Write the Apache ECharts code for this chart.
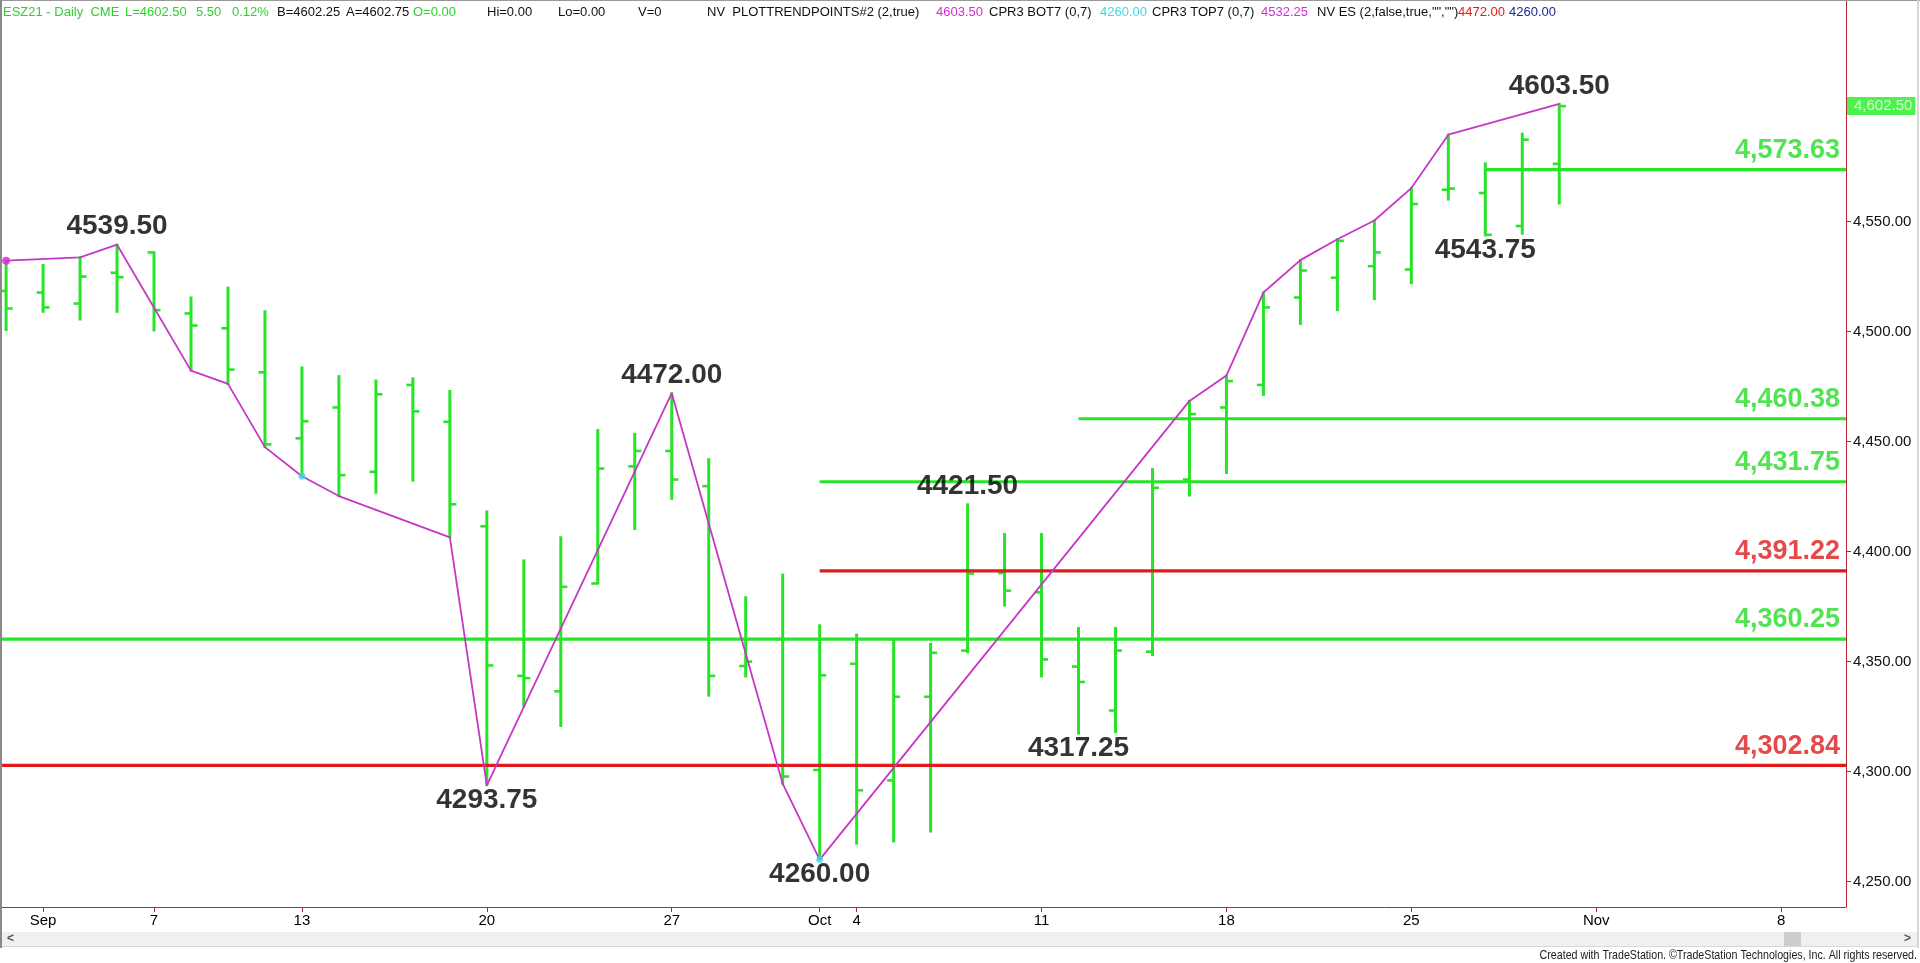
<!DOCTYPE html>
<html><head><meta charset="utf-8">
<script src="https://cdn.jsdelivr.net/npm/echarts@6/dist/echarts.min.js"></script>
<style>html,body{margin:0;padding:0;background:#fff;overflow:hidden}#c{width:1920px;height:963px}</style>
</head><body><div id="c"></div>
<script>
// ---------- DATA ----------
const dates = ['2021-08-31','2021-09-01','2021-09-02','2021-09-03','2021-09-07','2021-09-08','2021-09-09','2021-09-10',
 '2021-09-13','2021-09-14','2021-09-15','2021-09-16','2021-09-17','2021-09-20','2021-09-21','2021-09-22','2021-09-23','2021-09-24',
 '2021-09-27','2021-09-28','2021-09-29','2021-09-30','2021-10-01','2021-10-04','2021-10-05','2021-10-06','2021-10-07','2021-10-08',
 '2021-10-11','2021-10-12','2021-10-13','2021-10-14','2021-10-15','2021-10-18','2021-10-19','2021-10-20','2021-10-21','2021-10-22',
 '2021-10-25','2021-10-26','2021-10-27','2021-10-28','2021-10-29','2021-11-01','2021-11-02','2021-11-03','2021-11-04','2021-11-05',
 '2021-11-08','2021-11-09'];
const opens  = [4518.5,4517.75,4512.75,4526.75,4536.0,4508.25,4501.5,4481.5,4451.5,4465.5,4436.25,4475.75,4459.0,4411.5,4343.5,4336.5,4385.5,4438.75,4445.75,4429.75,4348.0,4360.25,4300.75,4349.0,4296.0,4334.0,4355.0,4390.25,4381.5,4347.75,4327.75,4354.5,4432.75,4465.5,4475.75,4515.5,4524.5,4529.75,4528.25,4564.5,4563.0,4548.0,4576.25];
const highs  = [4532.25,4530.25,4533.75,4539.5,4536.0,4515.5,4520.0,4509.25,4483.75,4479.75,4477.75,4478.75,4473.0,4418.25,4396.0,4406.5,4455.25,4453.5,4472.0,4442.0,4379.25,4389.5,4366.5,4362.25,4359.75,4358.0,4421.5,4408.0,4408.0,4365.25,4365.25,4437.5,4468.5,4480.0,4517.75,4532.5,4542.0,4550.5,4565.25,4589.5,4576.5,4590.0,4603.5];
const lows   = [4500.75,4509.0,4505.5,4509.0,4500.5,4482.25,4476.25,4447.5,4434.25,4425.25,4426.75,4432.25,4406.5,4293.75,4329.75,4320.75,4385.5,4410.25,4424.0,4334.5,4343.25,4294.5,4260.0,4267.25,4268.25,4272.75,4354.25,4375.5,4343.25,4317.25,4318.0,4353.0,4425.5,4435.75,4471.25,4503.5,4509.75,4514.75,4522.0,4560.0,4543.75,4544.5,4558.25];
const closes = [4510.5,4511.0,4525.0,4524.75,4509.75,4502.75,4482.75,4448.75,4459.25,4434.75,4471.5,4463.75,4421.5,4348.25,4342.5,4384.0,4437.75,4445.75,4432.75,4343.5,4350.0,4297.75,4343.75,4291.5,4334.0,4354.0,4390.0,4382.25,4351.0,4340.75,4355.0,4429.0,4462.5,4477.5,4511.0,4527.75,4541.25,4536.0,4558.0,4565.0,4544.0,4587.25,4602.5];

// trend (swing) line vertices
const trendIdx  = [0,2,3,5,6,7,8,9,12,13,18,21,22,32,33,34,35,36,37,38,39,42];
const trendVals = [4532.25,4533.75,4539.5,4482.25,4476.25,4447.5,4434.25,4425.25,4406.5,4293.75,4472.0,4294.5,4260.0,4468.5,4480.0,4517.75,4532.5,4542.0,4550.5,4565.25,4589.5,4603.5];
const topDotIdx = [0],    topDotVals = [4532.25];
const botDotIdx = [8,22], botDotVals = [4434.25,4260.0];

// horizontal levels
const levels        = [4573.63,4460.38,4431.75,4391.22,4360.25,4302.84];
const levelStartIdx = [40,29,22,22,null,null];   // null = from the left edge
const levelIsRed    = [false,false,false,true,false,true];

// swing labels
const swingIdx  = [3,18,13,22,26,29,40,42];
const swingVals = [4539.5,4472.0,4293.75,4260.0,4421.5,4317.25,4543.75,4603.5];
const swingAbove= [true,true,false,false,true,false,false,true];

// axes
const xTickIdx = [1,4,8,13,18,22,23,28,33,38,43,48];
const yTicks   = [4250,4300,4350,4400,4450,4500,4550];
const lastPrice = 4602.50;

// header (status line) texts
const headerTexts = ['ESZ21 - Daily  CME','L=4602.50','5.50','0.12%','B=4602.25','A=4602.75','O=0.00','Hi=0.00','Lo=0.00','V=0',
 'NV  PLOTTRENDPOINTS#2 (2,true)','4603.50','CPR3 BOT7 (0,7)','4260.00','CPR3 TOP7 (0,7)','4532.25','NV ES (2,false,true,"","")','4472.00','4260.00'];
const footerText = 'Created with TradeStation. \u00A9TradeStation Technologies, Inc. All rights reserved.';

// ---------- STYLE / LAYOUT ----------
const GREEN = '#28e428', RED = '#e01b1b', MAG = '#c637c6', CYAN = '#3fd8ec', AXIS = '#b42a2e';
const FONT = '"Liberation Sans", Arial, sans-serif';
const headerX = [3,125,196,232,277,346,413,487,558,638,707,936,989,1100,1152,1261,1317,1458,1509];
const headerColors = ['#2ed12e','#2ed12e','#2ed12e','#2ed12e','#111','#111','#2ed12e','#111','#111','#111','#111','#d82bd8','#111','#3fd8e6','#111','#d82bd8','#111','#e01b1b','#23239a'];
const X_MIN = -0.165, X_MAX = 49.754, Y_MIN = 4238.45, Y_MAX = 4650.73;

function fmtComma(v){ const s = v.toFixed(2); const p = s.split('.'); return p[0].replace(/\B(?=(\d{3})+(?!\d))/g, ',') + '.' + p[1]; }
const MON = ['Jan','Feb','Mar','Apr','May','Jun','Jul','Aug','Sep','Oct','Nov','Dec'];
function xLabel(idx){
  const d = dates[idx]; if(!d) return '';
  const m = +d.slice(5,7), day = +d.slice(8,10);
  const prev = dates[idx-1];
  if (prev && +prev.slice(5,7) !== m) return MON[m-1];
  return String(day);
}

const ohlc = opens.map((o,i)=>[i, o, highs[i], lows[i], closes[i]]);

const series = [];
series.push({
  type:'custom', name:'bars', z:2, clip:true,
  data: ohlc,
  renderItem: function(params, api){
    const i = api.value(0);
    const pH = api.coord([i, api.value(2)]);
    const pL = api.coord([i, api.value(3)]);
    const pO = api.coord([i, api.value(1)]);
    const pC = api.coord([i, api.value(4)]);
    const st = {stroke: GREEN, lineWidth: 3};
    const tk = {stroke: GREEN, lineWidth: 2.6};
    return {type:'group', children:[
      {type:'line', shape:{x1:pH[0], y1:pH[1]-1, x2:pL[0], y2:pL[1]+1}, style: st},
      {type:'line', shape:{x1:pO[0]-6.5, y1:pO[1], x2:pO[0], y2:pO[1]}, style: tk},
      {type:'line', shape:{x1:pC[0], y1:pC[1], x2:pC[0]+6.5, y2:pC[1]}, style: tk}
    ]};
  }
});
levels.forEach((lv,k)=>{
  const s = levelStartIdx[k] == null ? X_MIN : levelStartIdx[k];
  series.push({type:'line', z:3, symbol:'none', silent:true, animation:false,
    data:[[s, lv],[X_MAX, lv]],
    lineStyle:{color: levelIsRed[k] ? RED : GREEN, width:3.2}});
});
series.push({type:'line', z:4, symbol:'none', animation:false,
  data: trendIdx.map((x,k)=>[x, trendVals[k]]),
  lineStyle:{color: MAG, width:1.8}});
series.push({type:'scatter', z:5, symbolSize:8, itemStyle:{color:'#e020e0'}, data: topDotIdx.map((x,k)=>[x, topDotVals[k]])});
series.push({type:'scatter', z:5, symbolSize:7, itemStyle:{color:CYAN}, data: botDotIdx.map((x,k)=>[x, botDotVals[k]])});
series.push({type:'scatter', z:6, symbolSize:0, silent:true,
  data: levels.map((lv,k)=>({value:[X_MAX, lv], label:{color: levelIsRed[k] ? RED : '#26dc26'}})),
  label:{show:true, position:'left', distance:6, offset:[0,-19], fontFamily:FONT, fontSize:27, fontWeight:'bold',
    formatter: p=>fmtComma(p.value[1])}
});
series.push({type:'scatter', z:6, symbolSize:0, silent:true,
  data: swingIdx.map((x,k)=>({value:[x, swingVals[k]],
     label:{position: swingAbove[k] ? 'top' : 'bottom', distance: swingAbove[k] ? 4 : 1}})),
  label:{show:true, color:'#000', fontFamily:FONT, fontSize:28, fontWeight:'bold',
    formatter: p=>p.value[1].toFixed(2)}
});
// last price marker on the price scale
series.push({type:'scatter', z:20, zlevel:1, symbolSize:0, silent:true, clip:false,
  data:[[X_MAX, lastPrice]],
  label:{show:true, position:'right', distance:1, formatter: p=>fmtComma(p.value[1]),
    backgroundColor:'#22ee22', color:'#f2fff2', fontFamily:FONT, fontSize:15, padding:[2,3,1,7]}
});

const graphics = [];
graphics.push({type:'rect', shape:{x:0,y:0,width:1920,height:1}, style:{fill:'#9a9a9a'}, z:100, silent:true});
graphics.push({type:'rect', shape:{x:0,y:0,width:2,height:948}, style:{fill:'#8a8a8a'}, z:100, silent:true});
graphics.push({type:'rect', shape:{x:1917,y:0,width:2,height:948}, style:{fill:'#d6d6d6'}, z:100, silent:true});
graphics.push({type:'rect', shape:{x:2,y:932,width:1915,height:14}, style:{fill:'#f0f0f0'}, z:100, silent:true});
graphics.push({type:'rect', shape:{x:2,y:946,width:1915,height:1}, style:{fill:'#d8d8d8'}, z:100, silent:true});
graphics.push({type:'rect', shape:{x:1784,y:932,width:17,height:14}, style:{fill:'#cdcdcd'}, z:101, silent:true});
graphics.push({type:'text', x:7, y:939, style:{text:'<', fill:'#555', font:'bold 12px '+FONT, verticalAlign:'middle'}, z:101});
graphics.push({type:'text', x:1904, y:939, style:{text:'>', fill:'#555', font:'bold 12px '+FONT, verticalAlign:'middle'}, z:101});
graphics.push({type:'text', x:1917, y:955, scaleX:0.82, originX:0, originY:0,
  style:{text: footerText, fill:'#222', font:'13px '+FONT, align:'right', verticalAlign:'middle'}, z:101});
headerTexts.forEach((t,k)=>{
  graphics.push({type:'text', x:headerX[k], y:12,
    style:{text:t, fill:headerColors[k], font:'13px '+FONT, verticalAlign:'middle'}, z:101});
});

const chart = echarts.init(document.getElementById('c'), null, {renderer:'canvas'});
chart.setOption({
  animation:false,
  backgroundColor:'#ffffff',
  grid:{left:0, right:74, top:0, bottom:56, containLabel:false},
  xAxis:{type:'value', min:X_MIN, max:X_MAX, position:'bottom',
    axisLine:{show:true, onZero:false, lineStyle:{color:AXIS, width:1}},
    axisTick:{show:true, length:5, customValues:xTickIdx, lineStyle:{color:AXIS}},
    axisLabel:{show:true, customValues:xTickIdx, margin:6, color:'#000', fontFamily:FONT, fontSize:15,
      formatter: v=>xLabel(Math.round(v))},
    splitLine:{show:false}},
  yAxis:{type:'value', min:Y_MIN, max:Y_MAX, position:'right',
    axisLine:{show:true, onZero:false, lineStyle:{color:AXIS, width:1}},
    axisTick:{show:true, length:5, customValues:yTicks, lineStyle:{color:AXIS}},
    axisLabel:{show:true, customValues:yTicks, margin:7, color:'#111', fontFamily:FONT, fontSize:15,
      formatter: v=>fmtComma(v)},
    splitLine:{show:false}},
  series: series,
  graphic: graphics
});
</script></body></html>
